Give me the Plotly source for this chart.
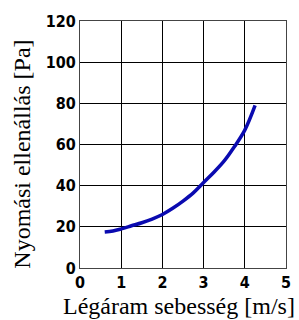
import plotly.graph_objects as go

speed = [0.6, 0.8, 1.0, 1.25, 1.5, 1.75, 2.0, 2.25, 2.5, 2.75, 3.0, 3.25, 3.5, 3.75, 4.0, 4.25]
pressure = [17.5, 18.0, 19.0, 20.5, 22.0, 23.8, 26.0, 29.0, 32.5, 36.5, 41.5, 46.5, 52.0, 59.0, 67.0, 79.0]

x_ticks = [0, 1, 2, 3, 4, 5]
y_ticks = [0, 20, 40, 60, 80, 100, 120]

fig = go.Figure()
fig.add_trace(go.Scatter(x=speed, y=pressure, mode="lines",
                         line=dict(color="#0a0ab0", width=3.5, shape="spline")))

tickfont = dict(family="DejaVu Sans Condensed, DejaVu Sans, sans-serif", size=16,
                color="black", weight="bold")
titlefont = dict(family="Liberation Serif, Times New Roman, serif", size=24, color="black")

fig.update_layout(
    width=299, height=320,
    margin=dict(l=80, r=13, t=21, b=52),
    paper_bgcolor="white", plot_bgcolor="white",
    showlegend=False,
    xaxis=dict(range=[0, 5], tickvals=x_ticks, ticktext=[str(v) for v in x_ticks],
               showgrid=True, gridcolor="black", gridwidth=1,
               showline=True, linecolor="#444", linewidth=1, mirror=True,
               zeroline=False, ticks="", tickfont=tickfont, automargin=False),
    yaxis=dict(range=[0, 120], tickvals=y_ticks, ticktext=[str(v) for v in y_ticks],
               showgrid=True, gridcolor="black", gridwidth=1,
               showline=True, linecolor="#444", linewidth=1, mirror=True,
               zeroline=False, ticks="", tickfont=tickfont, automargin=False),
    annotations=[
        dict(text="Légáram sebesség [m/s]", font=titlefont, showarrow=False,
             xref="paper", yref="paper", x=0.48, y=-0.155, xanchor="center", yanchor="middle"),
        dict(text="Nyomási ellenállás [Pa]", font=titlefont, showarrow=False, textangle=-90,
             xref="paper", yref="paper", x=-0.28, y=0.46, xanchor="center", yanchor="middle"),
    ],
)

fig.write_html("out.html", config={"displayModeBar": False},
               post_script="document.body.style.margin='0';document.body.style.overflow='hidden';")
